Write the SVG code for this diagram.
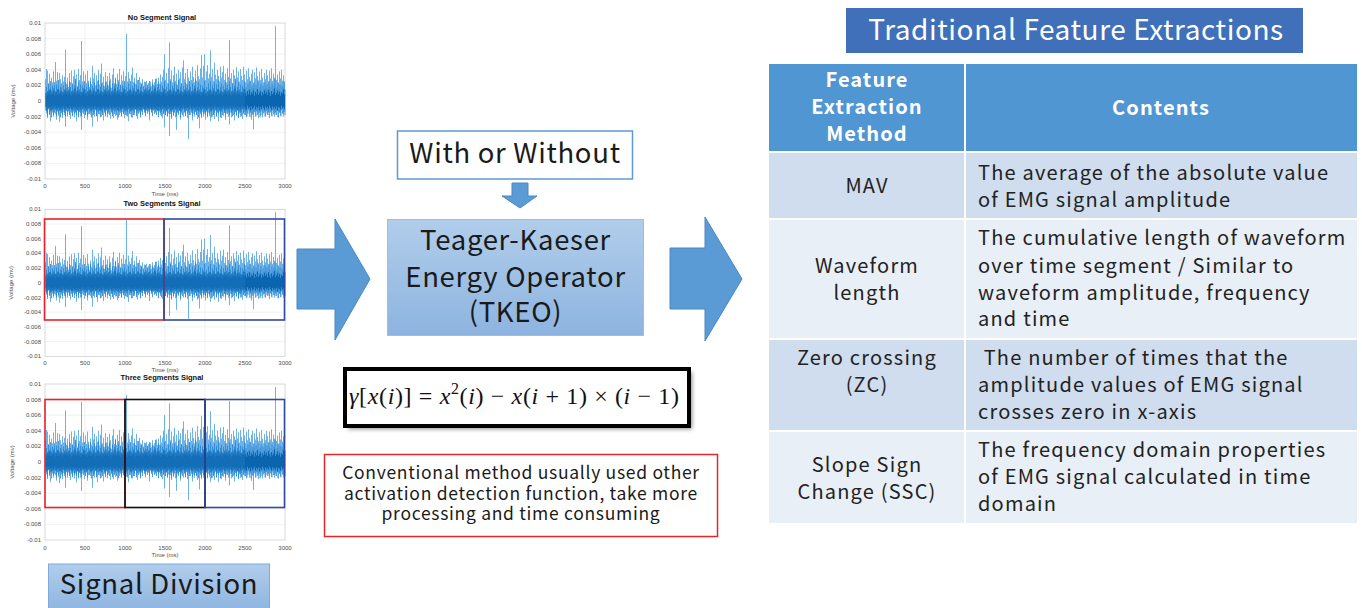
<svg xmlns="http://www.w3.org/2000/svg" xmlns:xlink="http://www.w3.org/1999/xlink" width="1362" height="608" viewBox="0 0 1362 608">
<style>
  .ttl{font-family:"Liberation Sans",Arial,sans-serif;font-size:7.5px;font-weight:bold;fill:#111;text-anchor:middle}
  .tick{font-family:"Liberation Sans",Arial,sans-serif;font-size:6px;fill:#4d4d4d}
  .yt{text-anchor:end}
  .xt{text-anchor:middle}
  .axl{font-family:"Liberation Sans",Arial,sans-serif;font-size:6px;fill:#4d4d4d;text-anchor:middle}
  .grid{stroke:#e8e8e8;stroke-width:0.6;fill:none}
  .axbox{stroke:#c8c8c8;stroke-width:0.7;fill:none}
  .spk{fill:none;stroke:#4A9FDF;stroke-width:0.8}
  .mid{fill:none;stroke:#2583CE;stroke-width:0.8}
  .core{fill:none;stroke:#0B64AE;stroke-width:1}
  .seg{fill:none;stroke-width:1.6}
  .jp{font-family:"Noto Sans CJK JP","Noto Sans",sans-serif;fill:#1a1a1a}
  .big{font-size:27.5px;letter-spacing:0.7px;text-anchor:middle}
  .note{font-size:17.5px;letter-spacing:0.7px;text-anchor:middle}
  .arrow{fill:#5B9BD5;stroke:#4A88C2;stroke-width:1}
  .cellh{fill:#4F96D2}
  .celld{fill:#CFDDEE}
  .celll{fill:#E9EFF7}
  .th{font-family:"Noto Sans CJK JP","Noto Sans",sans-serif;font-size:20px;font-weight:bold;letter-spacing:1.1px;fill:#fff;text-anchor:middle}
  .td{font-family:"Noto Sans CJK JP","Noto Sans",sans-serif;font-size:20px;letter-spacing:1.2px;fill:#222}
  .tdc{text-anchor:middle}
</style>
<defs>
  <linearGradient id="boxGrad" x1="0" y1="0" x2="0" y2="1">
    <stop offset="0" stop-color="#B1CDEB"/>
    <stop offset="1" stop-color="#8DB4E0"/>
  </linearGradient>
  <filter id="shadow" x="-10%" y="-20%" width="130%" height="150%">
    <feGaussianBlur stdDeviation="2"/>
  </filter>
  <!-- EMG trace, x: 0..240 px for 0..3000 ms, y: units of 0.001 mV (negative = up) -->
  <path id="emg-spikes" class="spk" vector-effect="non-scaling-stroke" d="M0 -2.8V1.2M1 -4.1V1.6M2 -3.9V2.2M3 -2.2V1M4 -3.5V1.8M5 -1.8V2.6M6 -3V1.2M7 -2.4V1.5M8 -3.8V2M9 -1.9V1.1M10 -5V1.7M11 -2.6V2.4M12 -3.7V1.3M13 -2V1.9M14 -3.6V2.7M15 -2.8V1.2M16 -1.7V1.6M17 -3.3V2.2M18 -2.5V1.4M19 -3.1V1.8M20 -6.6V3.3M21 -2.2V1.3M22 -3V2M23 -1.8V1.1M24 -3.6V1.6M25 -2.4V2.3M26 -3.9V1.2M27 -2.1V1.8M28 -3.2V1.4M29 -4V2.1M30 -2.6V1.5M31 -3.4V2.6M32 -1.9V1.2M33 -4.1V1.9M34 -2.7V1.4M35 -3.3V2M36 -7.7V3.7M37 -2.5V1.5M38 -3.8V1.1M39 -2V2.2M40 -3.4V1.6M41 -2.3V1.3M42 -3.9V2.4M43 -2.6V1.7M44 -1.8V1M45 -3V1.8M46 -2.2V1.4M47 -4.5V3.3M48 -2.9V1.5M49 -3.6V2M50 -2V1.2M51 -3.3V1.9M52 -2.6V2.6M53 -4V1.3M54 -2.1V1.7M55 -3.5V1.1M56 -4.8V2M57 -2.4V1.5M58 -3.1V2.5M59 -1.9V1.3M60 -3.7V1.8M61 -2.5V1.2M62 -3.2V2.1M63 -2V1.6M64 -3.6V1M65 -2.8V2.3M66 -1.7V1.4M67 -3.4V1.7M68 -4.2V2.2M69 -2.3V1.3M70 -3V1.9M71 -2.2V1.1M72 -3.5V2.4M73 -2.7V1.5M74 -4.1V1.8M75 -2V1.2M76 -3.3V2M77 -2.6V1.4M78 -3.8V1.7M79 -2.1V2.2M80 -3.2V1.3M81 -8.6V1.9M82 -2.5V1.5M83 -3.7V2.6M84 -2.9V1.2M85 -1.8V1.7M86 -3.4V1.4M87 -4.3V2.1M88 -2.4V1.3M89 -3V1.8M90 -2.2V1.1M91 -3.6V1.6M92 -2.7V2.3M93 -1.9V1.2M94 -3.1V1.5M95 -2.4V1.9M96 -2.2V1.1M97 -2.8V1.4M98 -1.8V1.1M99 -2.5V1.2M100 -1.7V1.6M101 -2.6V1.2M102 -2V1.3M103 -2.3V1M104 -1.6V2.5M105 -2.5V1.1M106 -1.9V1.4M107 -2.8V1M108 -2.1V1.2M109 -2.4V1.1M110 -1.8V1.5M111 -2.9V1.1M112 -2.2V1.3M113 -3V1.6M114 -2.2V1.2M115 -3.4V1.8M116 -2.5V1.4M117 -3.1V2.2M118 -4V1.5M119 -6V3.4M120 -2.7V1.8M121 -3.6V1.3M122 -2.3V2M123 -4.2V1.6M124 -7.5V4.5M125 -2.8V1.7M126 -3.9V2.3M127 -2.4V1.4M128 -3.3V1.9M129 -4.4V1.2M130 -2.6V2.1M131 -3.5V3.7M132 -2.1V1.5M133 -4V1.8M134 -2.9V1.3M135 -3.7V2.4M136 -2.3V1.6M137 -4.3V1.2M138 -5.2V2M139 -2.8V1.4M140 -3.6V1.9M141 -2.2V1.3M142 -4.1V2.2M143 -3V4.9M144 -2.5V1.5M145 -3.8V1.8M146 -2.7V1.2M147 -4.4V2.5M148 -3.1V1.6M149 -2.4V2M150 -3.9V1.4M151 -2.6V1.8M152 -4.6V2.3M153 -3.2V1.5M154 -2.8V3.5M155 -4.2V1.7M156 -5.9V2.2M157 -3V1.4M158 -4.5V2M159 -6V1.6M160 -2.7V2.4M161 -3.8V1.3M162 -4.6V2.1M163 -2.9V1.5M164 -3.5V1.9M165 -6.5V2.6M166 -3.1V1.4M167 -4.1V2M168 -2.6V1.6M169 -4.9V2.3M170 -3.4V1.3M171 -2.8V2M172 -4V1.5M173 -3.2V2.6M174 -2.5V1.4M175 -4.4V1.8M176 -3V2.2M177 -3.7V1.3M178 -4.5V1.9M179 -2.7V1.5M180 -3.5V2.4M181 -2.4V1.6M182 -4.2V1.2M183 -3.1V2M184 -7.8V3M185 -2.9V1.5M186 -3.6V2.1M187 -2.3V1.3M188 -4V1.8M189 -3.3V2.5M190 -2.6V1.4M191 -4.3V1.9M192 -3V1.2M193 -3.8V2.2M194 -2.5V1.6M195 -4.1V2M196 -3.2V1.4M197 -2.7V2.3M198 -4.4V1.5M199 -3.4V1.8M200 -2.4V1.3M201 -3.9V2.1M202 -2.8V1.6M203 -4.2V1.2M204 -3.1V2M205 -2.6V1.5M206 -3.5V2.4M207 -4V1.7M208 -2.3V3.6M209 -3.7V1.4M210 -2.9V2M211 -4.3V1.3M212 -3.2V1.8M213 -2.5V2.2M214 -3.8V1.5M215 -2.7V1.9M216 -4.1V1.2M217 -3V2.1M218 -2.4V1.6M219 -3.6V1.4M220 -2.8V2M221 -4V1.3M222 -3.3V1.8M223 -2.5V1.5M224 -3.9V2.2M225 -2.9V1.4M226 -4.2V1.9M227 -2.6V1.2M228 -3.5V1.7M229 -3V2M230 -9.6V1.5M231 -2.7V1.8M232 -3.4V1.3M233 -2.3V2.1M234 -3.8V1.5M235 -2.9V1.9M236 -4V1.2M237 -2.6V1.6M238 -3.3V2M239 -2.4V1.4"/>
  <path id="emg-core" vector-effect="non-scaling-stroke" d="M0.5 -1.2V0.9M1.5 -0.8V1.3M2.5 -1.5V0.7M3.5 -1V1.1M4.5 -1.7V0.9M5.5 -0.9V1.4M6.5 -1.3V0.8M7.5 -1.1V1.2M8.5 -1.6V1M9.5 -0.8V0.7M10.5 -1.4V1.3M11.5 -1V0.9M12.5 -1.8V1.1M13.5 -0.9V0.8M14.5 -1.2V1.4M15.5 -1.5V0.9M16.5 -0.8V1.2M17.5 -1.3V0.7M18.5 -1V1M19.5 -1.6V1.3M20.5 -1.1V0.8M21.5 -1.4V1.1M22.5 -0.9V0.9M23.5 -1.7V1.2M24.5 -1.2V0.7M25.5 -0.8V1M26.5 -1.5V1.3M27.5 -1V0.8M28.5 -1.3V1.1M29.5 -1.9V0.9M30.5 -0.9V1.2M31.5 -1.2V0.8M32.5 -1.6V1.4M33.5 -1V0.9M34.5 -1.4V1M35.5 -0.8V1.3M36.5 -1.3V0.7M37.5 -1.1V1.1M38.5 -1.7V0.9M39.5 -1V1.2"/>
  <g id="core-run">
    <use xlink:href="#emg-core"/>
    <use xlink:href="#emg-core" x="40"/>
    <use xlink:href="#emg-core" x="80"/>
    <use xlink:href="#emg-core" x="120"/>
    <use xlink:href="#emg-core" x="160"/>
    <use xlink:href="#emg-core" x="199.5"/>
  </g>
  <!-- placed with x offset 45.5 so the 1-px columns land on pixel centres -->
  <g id="emg">
    <use xlink:href="#emg-spikes"/>
    <g class="mid" transform="translate(0.5,0) scale(1,1.5)"><use xlink:href="#core-run"/></g>
    <g class="core" transform="scale(1,0.85)"><use xlink:href="#core-run"/></g>
  </g>
</defs>

<rect width="1362" height="608" fill="#fff"/>

<!-- Plot 1: no segment -->
<g id="plot-no-segment">
  <text class="ttl" x="162" y="19.5">No Segment Signal</text>
  <g transform="translate(45,23)">
    <path class="grid" d="M40 0V156M80 0V156M120 0V156M160 0V156M200 0V156M0 15.6H240M0 31.2H240M0 46.8H240M0 62.4H240M0 78H240M0 93.6H240M0 109.2H240M0 124.8H240M0 140.4H240"/>
    <rect class="axbox" x="0" y="0" width="240" height="156"/>
  </g>
  <use xlink:href="#emg" transform="translate(45.5,101) scale(1,7.8)"/>
  <g class="tick yt">
    <text x="41" y="25">0.01</text><text x="41" y="40.6">0.008</text><text x="41" y="56.2">0.006</text><text x="41" y="71.8">0.004</text><text x="41" y="87.4">0.002</text><text x="41" y="103">0</text><text x="41" y="118.6">-0.002</text><text x="41" y="134.2">-0.004</text><text x="41" y="149.8">-0.006</text><text x="41" y="165.4">-0.008</text><text x="41" y="181">-0.01</text>
  </g>
  <g class="tick xt">
    <text x="45" y="188">0</text><text x="85" y="188">500</text><text x="125" y="188">1000</text><text x="165" y="188">1500</text><text x="205" y="188">2000</text><text x="245" y="188">2500</text><text x="285" y="188">3000</text>
  </g>
  <text class="axl" x="165" y="195.5">Time (ms)</text>
  <text class="axl" transform="translate(15,101) rotate(-90)">Voltage (mv)</text>
</g>

<!-- Plot 2: two segments -->
<g id="plot-two-segments">
  <text class="ttl" x="162" y="205.5">Two Segments Signal</text>
  <g transform="translate(45,209.3)">
    <path class="grid" d="M40 0V147M80 0V147M120 0V147M160 0V147M200 0V147M0 14.7H240M0 29.4H240M0 44.1H240M0 58.8H240M0 73.5H240M0 88.2H240M0 102.9H240M0 117.6H240M0 132.3H240"/>
    <rect class="axbox" x="0" y="0" width="240" height="147"/>
  </g>
  <use xlink:href="#emg" transform="translate(45.5,282.8) scale(1,7.35)"/>
  <g class="tick yt">
    <text x="41" y="211.3">0.01</text><text x="41" y="226">0.008</text><text x="41" y="240.7">0.006</text><text x="41" y="255.4">0.004</text><text x="41" y="270.1">0.002</text><text x="41" y="284.8">0</text><text x="41" y="299.5">-0.002</text><text x="41" y="314.2">-0.004</text><text x="41" y="328.9">-0.006</text><text x="41" y="343.6">-0.008</text><text x="41" y="358.3">-0.01</text>
  </g>
  <g class="tick xt">
    <text x="45" y="364.5">0</text><text x="85" y="364.5">500</text><text x="125" y="364.5">1000</text><text x="165" y="364.5">1500</text><text x="205" y="364.5">2000</text><text x="245" y="364.5">2500</text><text x="285" y="364.5">3000</text>
  </g>
  <text class="axl" x="165" y="371.5">Time (ms)</text>
  <text class="axl" transform="translate(13,282.8) rotate(-90)">Voltage (mv)</text>
  <rect class="seg" x="44.5" y="219" width="119.5" height="101" stroke="#E8232B"/>
  <rect class="seg" x="164" y="219" width="120.5" height="101" stroke="#2F4A9E"/>
</g>

<!-- Plot 3: three segments -->
<g id="plot-three-segments">
  <text class="ttl" x="162" y="379.5">Three Segments Signal</text>
  <g transform="translate(45,384)">
    <path class="grid" d="M40 0V156M80 0V156M120 0V156M160 0V156M200 0V156M0 15.6H240M0 31.2H240M0 46.8H240M0 62.4H240M0 78H240M0 93.6H240M0 109.2H240M0 124.8H240M0 140.4H240"/>
    <rect class="axbox" x="0" y="0" width="240" height="156"/>
  </g>
  <use xlink:href="#emg" transform="translate(45.5,462) scale(1,7.8)"/>
  <g class="tick yt">
    <text x="41" y="386">0.01</text><text x="41" y="401.6">0.008</text><text x="41" y="417.2">0.006</text><text x="41" y="432.8">0.004</text><text x="41" y="448.4">0.002</text><text x="41" y="464">0</text><text x="41" y="479.6">-0.002</text><text x="41" y="495.2">-0.004</text><text x="41" y="510.8">-0.006</text><text x="41" y="526.4">-0.008</text><text x="41" y="542">-0.01</text>
  </g>
  <g class="tick xt">
    <text x="45" y="549.5">0</text><text x="85" y="549.5">500</text><text x="125" y="549.5">1000</text><text x="165" y="549.5">1500</text><text x="205" y="549.5">2000</text><text x="245" y="549.5">2500</text><text x="285" y="549.5">3000</text>
  </g>
  <text class="axl" x="165" y="556.5">Time (ms)</text>
  <text class="axl" transform="translate(14,462) rotate(-90)">Voltage (mv)</text>
  <rect class="seg" x="45" y="399.5" width="80" height="108" stroke="#E8232B"/>
  <rect class="seg" x="125" y="399.5" width="80" height="108" stroke="#111"/>
  <rect class="seg" x="205" y="399.5" width="79.5" height="108" stroke="#2F4A9E"/>
</g>

<!-- Signal Division label -->
<g id="signal-division">
  <rect x="48.5" y="564" width="221" height="48" fill="url(#boxGrad)" stroke="#7FAADA" stroke-width="1"/>
  <text class="jp big" x="159" y="594">Signal Division</text>
</g>

<!-- Connectors -->
<g id="connectors">
  <polygon class="arrow" points="297,249 335,249 335,219 370,279 335,340 335,309 297,309"/>
  <polygon class="arrow" points="512,183 528,183 528,196 537,196 520,208 502,196 512,196"/>
  <polygon class="arrow" points="670,248 705,248 705,217 742,279 705,341 705,309 670,309"/>
</g>

<!-- With or Without -->
<g id="with-or-without">
  <rect x="397.5" y="131" width="235" height="48" fill="#fff" stroke="#5B9BD5" stroke-width="1.5"/>
  <text class="jp big" x="515" y="163">With or Without</text>
</g>

<!-- TKEO -->
<g id="tkeo">
  <rect x="387.5" y="219.5" width="256" height="116" fill="url(#boxGrad)" stroke="#9DBEE3" stroke-width="1"/>
  <text class="jp big" x="515.5" y="250">Teager-Kaeser</text>
  <text class="jp big" x="515.5" y="287">Energy Operator</text>
  <text class="jp big" x="515.5" y="322">(TKEO)</text>
</g>

<!-- Formula -->
<g id="formula">
  <rect x="348" y="372" width="344" height="57" fill="#8a8a8a" filter="url(#shadow)"/>
  <rect x="345" y="369" width="344" height="57" fill="#fff" stroke="#000" stroke-width="4"/>
  <text x="349" y="404" font-family="'Liberation Serif','DejaVu Serif',serif" font-size="24" fill="#111" textLength="330" lengthAdjust="spacing"><tspan font-style="italic">γ</tspan>[<tspan font-style="italic">x</tspan>(<tspan font-style="italic">i</tspan>)] = <tspan font-style="italic">x</tspan><tspan dy="-10" font-size="16">2</tspan><tspan dy="10">(</tspan><tspan font-style="italic">i</tspan>) − <tspan font-style="italic">x</tspan>(<tspan font-style="italic">i</tspan> + 1) × (<tspan font-style="italic">i</tspan> − 1)</text>
</g>

<!-- Note on conventional method -->
<g id="conventional-note">
  <rect x="324.5" y="454.5" width="393" height="82" fill="#fff" stroke="#E8262A" stroke-width="1.5"/>
  <text class="jp note" x="521" y="479">Conventional method usually used other</text>
  <text class="jp note" x="521" y="499.5">activation detection function, take more</text>
  <text class="jp note" x="521" y="520">processing and time consuming</text>
</g>

<!-- Feature extraction table -->
<g id="feature-title">
  <rect x="846" y="8" width="457" height="45" fill="#4070B9"/>
  <text class="jp" x="1076" y="40" font-size="28" letter-spacing="0.55" style="fill:#fff" text-anchor="middle">Traditional Feature Extractions</text>
</g>

<g id="feature-table">
  <rect class="cellh" x="769" y="64" width="195" height="87"/>
  <rect class="cellh" x="966" y="64" width="391" height="87"/>
  <rect class="celld" x="769" y="153" width="195" height="65"/>
  <rect class="celld" x="966" y="153" width="391" height="65"/>
  <rect class="celll" x="769" y="220" width="195" height="118"/>
  <rect class="celll" x="966" y="220" width="391" height="118"/>
  <rect class="celld" x="769" y="340" width="195" height="90"/>
  <rect class="celld" x="966" y="340" width="391" height="90"/>
  <rect class="celll" x="769" y="432" width="195" height="91"/>
  <rect class="celll" x="966" y="432" width="391" height="91"/>

  <text class="th" x="867" y="87">Feature</text>
  <text class="th" x="867" y="114">Extraction</text>
  <text class="th" x="867" y="141">Method</text>
  <text class="th" x="1161" y="115">Contents</text>

  <text class="td tdc" x="867" y="193">MAV</text>
  <text class="td" x="978" y="180">The average of the absolute value</text>
  <text class="td" x="978" y="207">of EMG signal amplitude</text>

  <text class="td tdc" x="867" y="273">Waveform</text>
  <text class="td tdc" x="867" y="300">length</text>
  <text class="td" x="978" y="245">The cumulative length of waveform</text>
  <text class="td" x="978" y="273">over time segment / Similar to</text>
  <text class="td" x="978" y="300">waveform amplitude, frequency</text>
  <text class="td" x="978" y="326">and time</text>

  <text class="td tdc" x="867" y="365">Zero crossing</text>
  <text class="td tdc" x="867" y="392">(ZC)</text>
  <text class="td" x="978" y="365" xml:space="preserve"> The number of times that the</text>
  <text class="td" x="978" y="392">amplitude values of EMG signal</text>
  <text class="td" x="978" y="419">crosses zero in x-axis</text>

  <text class="td tdc" x="867" y="472">Slope Sign</text>
  <text class="td tdc" x="867" y="499">Change (SSC)</text>
  <text class="td" x="978" y="457">The frequency domain properties</text>
  <text class="td" x="978" y="484">of EMG signal calculated in time</text>
  <text class="td" x="978" y="511">domain</text>
</g>
</svg>
